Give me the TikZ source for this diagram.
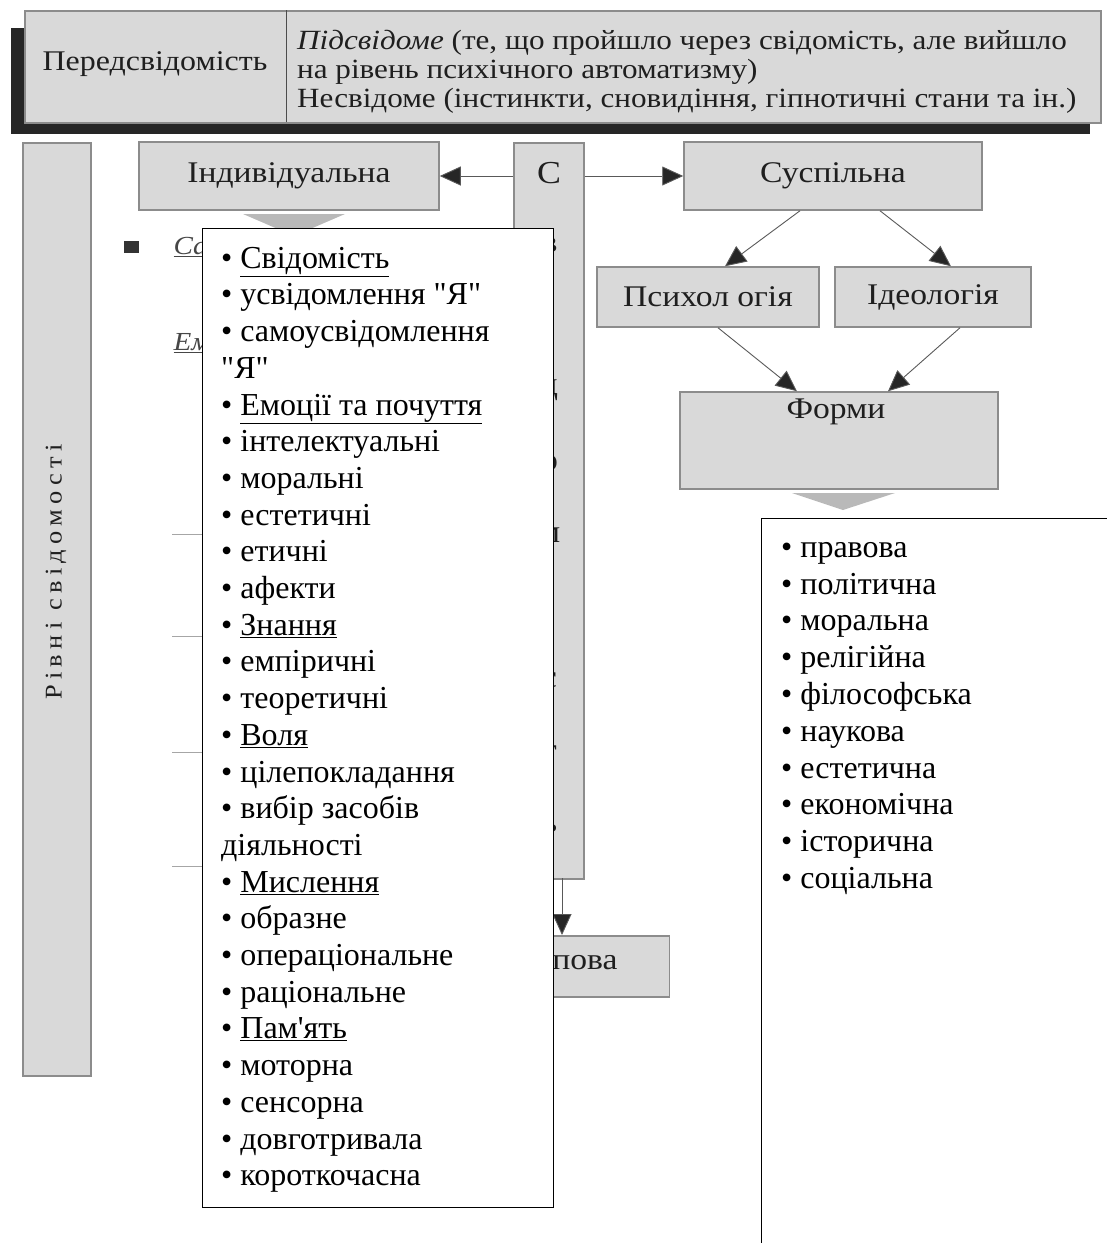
\documentclass[tikz,border=0pt]{standalone}
\usepackage{fontspec}
\setmainfont{Liberation Serif}
\newfontfamily\listfont{Liberation Serif}
\newfontfamily\scanfont[FakeStretch=1.12]{Liberation Serif}
\newfontfamily\spacedfont[LetterSpace=22,FakeStretch=1.1]{Liberation Serif}
\usetikzlibrary{arrows.meta}
\definecolor{scanfill}{gray}{0.85}
\definecolor{scanline}{gray}{0.55}
\definecolor{scantext}{gray}{0.12}

\begin{document}
\begin{tikzpicture}[x=1pt,y=-1pt,
  scanbox/.style={draw=scanline, fill=scanfill, line width=1.5pt, inner sep=0pt, text=scantext},
  conn/.style={draw=black!65, line width=0.9pt, -{Triangle[length=21pt,width=19pt,fill=black!85]}},
  listbox/.style={draw=black, line width=1.3pt, fill=white, inner sep=0pt},
  chev/.style={fill=gray!55}]
\useasboundingbox (0,0) rectangle (1107,1243);
% top banner
\fill[black!85] (11,28) rectangle (1090,134);
\node[scanbox, anchor=north west, minimum width=1076, minimum height=112] (pre) at (24,10) {};
\draw[black!70, line width=1pt] (286,10) -- (286,122);
\node[text=scantext, font=\scanfont\fontsize{28.5}{29}\selectfont] (prename) at (155,64) {Передсвідомість};
\node[text=scantext, anchor=north west, align=left, inner sep=0pt, font=\scanfont\fontsize{27.8}{29}\selectfont] (pretext) at (297,27)
  {\rule{0pt}{22pt}\textit{Підсвідоме} (те, що пройшло через свідомість, але вийшло\\
   на рівень психічного автоматизму)\\
   Несвідоме (інстинкти, сновидіння, гіпнотичні стани та ін.)};
% levels column
\node[scanbox, anchor=north west, minimum width=68, minimum height=933] (lvl) at (22,142) {};
\node[rotate=90, text=scantext, font=\spacedfont\fontsize{24}{28}\selectfont] (lvltext) at (56,572) {Рівні свідомості};
% individual
\node[scanbox, minimum width=300, minimum height=68, font=\scanfont\fontsize{30}{34}\selectfont] (ind) at (289,176) {Індивідуальна};
\fill[chev] (243,214) -- (345,214) -- (294,236) -- cycle;
\node[fill=black!80, minimum width=15pt, minimum height=12pt, inner sep=0pt] (sq) at (131,247) {};
\node[anchor=west, text=gray!55!black, font=\scanfont\fontsize{26}{28}\selectfont\itshape] (satext) at (170,247) {\underline{Са}};
\node[anchor=west, text=gray!55!black, font=\scanfont\fontsize{26}{28}\selectfont\itshape] (emtext) at (170,343) {\underline{Ем}};
\foreach \y in {534,636,752,866}
  \draw[gray!70, line width=1pt] (172,\y) -- (204,\y);
% consciousness column
\node[scanbox, anchor=north west, minimum width=70, minimum height=736] (col) at (513,142) {};
\foreach \l [count=\i from 0] in {С,в,і,д,о,м,і,с,т,ь}
  \node[text=scantext, font=\scanfont\fontsize{32}{36}\selectfont] (colch\i) at (549,173+72.5*\i) {\l};
\coordinate (colfoot) at (562,878);
% social
\node[scanbox, minimum width=298, minimum height=68, font=\scanfont\fontsize{30}{34}\selectfont] (sus) at (833,176) {Суспільна};
\node[scanbox, minimum width=222, minimum height=60, font=\scanfont\fontsize{30}{34}\selectfont] (psy) at (708,297) {Психол огія};
\node[scanbox, minimum width=196, minimum height=60, font=\scanfont\fontsize{30}{34}\selectfont] (ide) at (933,297) {Ідеологія};
\node[scanbox, minimum width=318, minimum height=97] (form) at (839,440.5) {};
\node[text=scantext, font=\scanfont\fontsize{30}{34}\selectfont] (formname) at (836,412) {Форми};
\fill[chev] (792,493) -- (895,493) -- (843,510) -- cycle;
% group box
\node[scanbox, anchor=north east, minimum width=200, minimum height=61] (grp) at (670,935) {};
\node[anchor=east, text=scantext, font=\scanfont\fontsize{30}{34}\selectfont] (grpname) at (621,963) {пова};
% connectors
\draw[conn] (col.west |- ind.east) -- (ind.east);
\draw[conn] (col.east |- sus.west) -- (sus.west);
\draw[conn] ([xshift=-33]sus.south) -- ([xshift=17]psy.north);
\draw[conn] ([xshift=47]sus.south) -- ([xshift=18]ide.north);
\draw[conn] ([xshift=10]psy.south) -- ([xshift=-42]form.north);
\draw[conn] ([xshift=27]ide.south) -- ([xshift=49]form.north);
\draw[conn] (colfoot) -- (colfoot |- grp.north);
% list of individual consciousness
\node[listbox, anchor=north west, minimum width=351, minimum height=979] (indlist) at (202,228) {};
\node[anchor=north west, align=left, inner sep=0pt, font=\listfont\fontsize{32}{36.7}\selectfont] (indtext) at (221,240)
  {\rule{0pt}{28pt}• \underline{Свідомість}\\
   • усвідомлення "Я"\\
   • самоусвідомлення\\
   "Я"\\
   • \underline{Емоції та почуття}\\
   • інтелектуальні\\
   • моральні\\
   • естетичні\\
   • етичні\\
   • афекти\\
   • \underline{Знання}\\
   • емпіричні\\
   • теоретичні\\
   • \underline{Воля}\\
   • цілепокладання\\
   • вибір засобів\\
   діяльності\\
   • \underline{Мислення}\\
   • образне\\
   • операціональне\\
   • раціональне\\
   • \underline{Пам'ять}\\
   • моторна\\
   • сенсорна\\
   • довготривала\\
   • короткочасна};
% list of forms
\node[listbox, anchor=north west, minimum width=360, minimum height=740] (formlist) at (761,518) {};
\node[anchor=north west, align=left, inner sep=0pt, font=\listfont\fontsize{32}{36.8}\selectfont] (formtext) at (781,529)
  {\rule{0pt}{28pt}• правова\\
   • політична\\
   • моральна\\
   • релігійна\\
   • філософська\\
   • наукова\\
   • естетична\\
   • економічна\\
   • історична\\
   • соціальна};
\end{tikzpicture}
\end{document}
